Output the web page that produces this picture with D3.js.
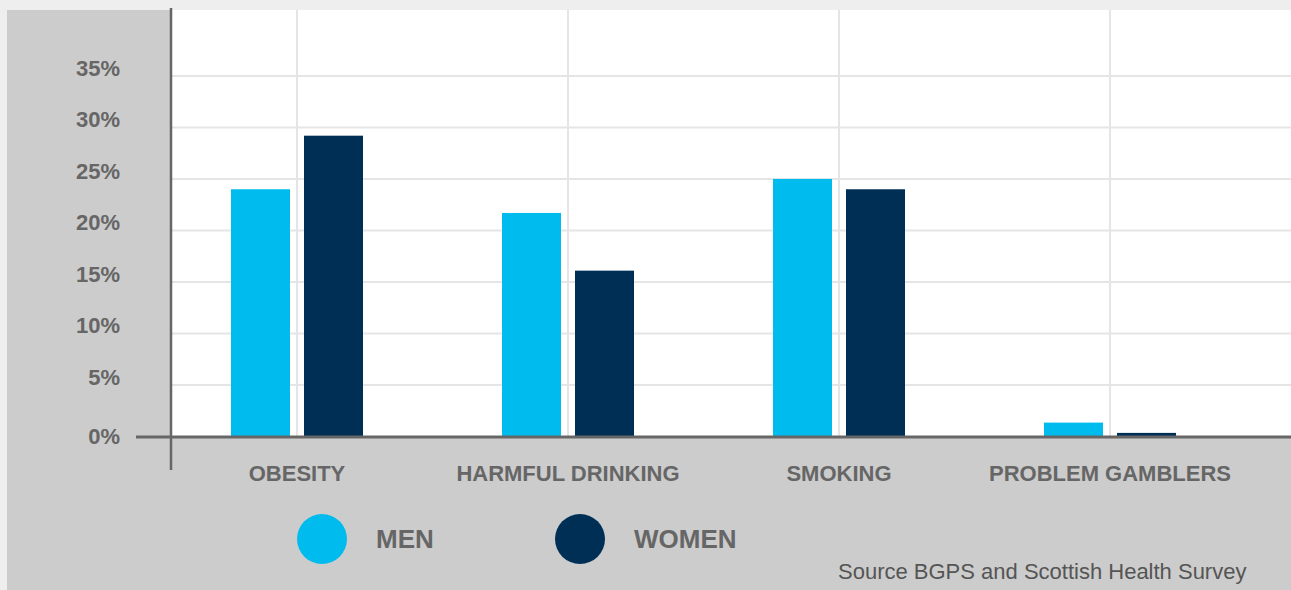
<!DOCTYPE html>
<html>
<head>
<meta charset="utf-8">
<title>Men and women: obesity, drinking, smoking, gambling</title>
<script src="https://cdn.jsdelivr.net/npm/d3@7"></script>
<style>
  body { margin: 0; background: #eeeeee; }
  svg { display: block; }
  .lbl { font-family: "Liberation Sans", Arial, sans-serif; font-weight: bold; fill: #666666; }
</style>
</head>
<body>
<script>
// data
var categories = ["OBESITY", "HARMFUL DRINKING", "SMOKING", "PROBLEM GAMBLERS"];
var series = ["MEN", "WOMEN"];
var menValues = [24.0, 21.7, 25.0, 1.35];
var womenValues = [29.2, 16.1, 24.0, 0.35];
var yTicks = [0, 5, 10, 15, 20, 25, 30, 35];
var colors = ["#00bbee", "#002f56"];
var sourceText = "Source BGPS and Scottish Health Survey";

var W = 1291, H = 590;
var svg = d3.select("body").append("svg").attr("width", W).attr("height", H);

// backgrounds
svg.append("rect").attr("x", 0).attr("y", 0).attr("width", W).attr("height", H).attr("fill", "#eeeeee");
svg.append("rect").attr("x", 7).attr("y", 10).attr("width", W - 7).attr("height", H - 10).attr("fill", "#cccccc");

var plotLeft = 171, plotTop = 10, plotRight = W, plotBottom = 436.5;
svg.append("rect").attr("x", plotLeft).attr("y", plotTop)
  .attr("width", plotRight - plotLeft).attr("height", plotBottom - plotTop).attr("fill", "#ffffff");

var x0 = d3.scaleBand().domain(categories).range([161.5, 1245.5]);
var x1 = d3.scaleBand().domain(series).range([0, 132]).paddingInner(14 / 73);
var y = d3.scaleLinear().domain([0, 41.4]).range([plotBottom, plotTop]);

// grid
svg.append("g").selectAll("line").data(yTicks.filter(function(t){ return t > 0; })).enter().append("line")
  .attr("x1", plotLeft).attr("x2", plotRight)
  .attr("y1", function(d){ return y(d); }).attr("y2", function(d){ return y(d); })
  .attr("stroke", "#e5e5e5").attr("stroke-width", 2);
svg.append("g").selectAll("line").data(categories).enter().append("line")
  .attr("x1", function(d){ return x0(d) + x0.bandwidth() / 2; })
  .attr("x2", function(d){ return x0(d) + x0.bandwidth() / 2; })
  .attr("y1", plotTop).attr("y2", plotBottom)
  .attr("stroke", "#e5e5e5").attr("stroke-width", 2);

// bars
var rows = categories.map(function(c, i){ return {cat: c, vals: [menValues[i], womenValues[i]]}; });
var innerOffset = (x0.bandwidth() - 132) / 2;
var groups = svg.append("g").selectAll("g").data(rows).enter().append("g")
  .attr("transform", function(d){ return "translate(" + (x0(d.cat) + innerOffset) + ",0)"; });
groups.selectAll("rect").data(function(d){ return d.vals.map(function(v, j){ return {s: series[j], v: v, j: j}; }); })
  .enter().append("rect")
  .attr("x", function(d){ return x1(d.s); })
  .attr("width", x1.bandwidth())
  .attr("y", function(d){ return y(d.v); })
  .attr("height", function(d){ return y(0) - y(d.v); })
  .attr("fill", function(d){ return colors[d.j]; });

// axes lines
svg.append("line").attr("x1", 171).attr("x2", 171).attr("y1", 8).attr("y2", 470)
  .attr("stroke", "#666666").attr("stroke-width", 2.5);
svg.append("line").attr("x1", 136).attr("x2", W).attr("y1", y(0) + 0.5).attr("y2", y(0) + 0.5)
  .attr("stroke", "#666666").attr("stroke-width", 3);

// y tick labels
svg.append("g").selectAll("text").data(yTicks).enter().append("text")
  .attr("class", "lbl")
  .attr("x", 120)
  .attr("y", function(d){ return y(d) + (d === 0 ? 7.5 : 0); })
  .attr("text-anchor", "end")
  .style("font-size", "22px")
  .text(function(d){ return d + "%"; });

// category labels
svg.append("g").selectAll("text").data(categories).enter().append("text")
  .attr("class", "lbl")
  .attr("x", function(d){ return x0(d) + x0.bandwidth() / 2; })
  .attr("y", 481)
  .attr("text-anchor", "middle")
  .style("font-size", "22px")
  .text(function(d){ return d; });

// legend
var legendX = [322, 580];
var leg = svg.append("g").selectAll("g").data(series).enter().append("g")
  .attr("transform", function(d, i){ return "translate(" + legendX[i] + ",539)"; });
leg.append("circle").attr("r", 25).attr("fill", function(d, i){ return colors[i]; });
leg.append("text").attr("class", "lbl").attr("x", 54).attr("y", 9)
  .style("font-size", "26px").text(function(d){ return d; });

// source
svg.append("text")
  .attr("x", 838).attr("y", 579)
  .style("font-family", "'Liberation Sans', Arial, sans-serif")
  .style("font-size", "22px")
  .attr("fill", "#555555")
  .text(sourceText);
</script>
</body>
</html>
